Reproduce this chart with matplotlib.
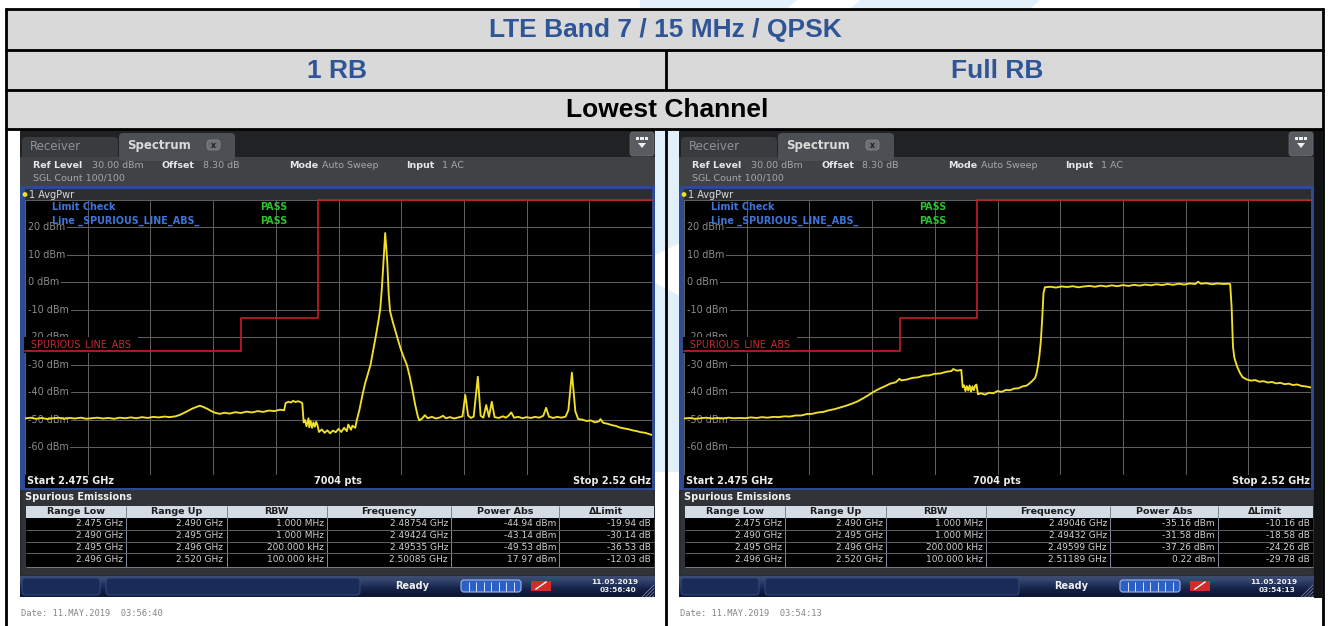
import matplotlib
matplotlib.use("Agg")
import matplotlib.pyplot as plt
import matplotlib.transforms as mtransforms
from matplotlib.patches import Rectangle, FancyBboxPatch, Polygon, Circle
import numpy as np

# ---------------- data ----------------
TITLE = "LTE Band 7 / 15 MHz / QPSK"
COLUMN_TITLES = ["1 RB", "Full RB"]
ROW_TITLE = "Lowest Channel"

F_START, F_STOP = 2.475, 2.52
REF_TOP, REF_BOTTOM = 30, -70
Y_TICKS = [20, 10, 0, -10, -20, -30, -40, -50, -60]
Y_TICK_LABELS = ["20 dBm", "10 dBm", "0 dBm", "-10 dBm", "-20 dBm",
                 "-30 dBm", "-40 dBm", "-50 dBm", "-60 dBm"]
SWEEP_POINTS = 7004

LIMIT_GHZ = [2.475, 2.4905, 2.4905, 2.496, 2.496, 2.52]
LIMIT_DBM = [-25, -25, -13, -13, 30, 30]

TRACE_1RB_GHZ = [
    2.4750, 2.4754, 2.4758, 2.4762, 2.4766, 2.4770, 2.4774, 2.4778, 2.4782, 2.4786,
    2.4790, 2.4794, 2.4798, 2.4802, 2.4806, 2.4810, 2.4814, 2.4818, 2.4822, 2.4826,
    2.4830, 2.4834, 2.4838, 2.4842, 2.4846, 2.4850, 2.4854, 2.4858,
    2.4861, 2.4864, 2.4867, 2.4870, 2.4873, 2.48754, 2.4878, 2.4881, 2.4884, 2.4887, 2.4890,
    2.4893, 2.4897, 2.4901, 2.4905, 2.4909, 2.4913, 2.4917, 2.4921, 2.4925, 2.4929, 2.4933, 2.4936,
    2.4937, 2.4939, 2.4941, 2.49424, 2.4944, 2.4946, 2.4948, 2.4949,
    2.4950, 2.4951, 2.4952, 2.49535, 2.4954, 2.4955, 2.4956, 2.4957, 2.4958, 2.4959, 2.4960,
    2.4961, 2.4963, 2.4965, 2.4967, 2.4969, 2.4971, 2.4973, 2.4975, 2.4977, 2.4979,
    2.4981, 2.4982, 2.4984, 2.4985, 2.4987, 2.4988,
    2.4990, 2.4992, 2.4994, 2.4996, 2.4998, 2.5000, 2.5002, 2.5004, 2.5005, 2.5006,
    2.5007, 2.50085, 2.5010, 2.5011, 2.5012, 2.5014, 2.5016, 2.5018, 2.5020, 2.5022,
    2.5024, 2.5026, 2.5028, 2.5030, 2.5032, 2.5033,
    2.5035, 2.5037, 2.5039, 2.5042, 2.5045, 2.5048, 2.5050, 2.5052, 2.5055, 2.5058,
    2.5061, 2.5064, 2.5066, 2.5068, 2.5070, 2.5072, 2.5075, 2.5077, 2.5079, 2.5081,
    2.5083, 2.5085, 2.5087, 2.5090, 2.5093, 2.5095, 2.5097, 2.5099, 2.5101, 2.5104,
    2.5107, 2.5110, 2.5113, 2.5116, 2.5119, 2.5122, 2.5124, 2.5126, 2.5129, 2.5132,
    2.5135, 2.5138, 2.5140, 2.51425, 2.5145, 2.5147, 2.5150, 2.5153, 2.5156, 2.5159,
    2.5162, 2.5163, 2.5165, 2.5168, 2.5171, 2.5174, 2.5177, 2.5180, 2.5183, 2.5186,
    2.5189, 2.5192, 2.5195, 2.5198, 2.5200]
TRACE_1RB_DBM = [
    -49.6, -49.3, -49.7, -49.4, -49.8, -49.5, -49.3, -49.7, -49.4, -49.6,
    -49.3, -49.7, -49.5, -49.3, -49.6, -49.4, -49.7, -49.3, -49.5, -49.2,
    -49.5, -49.1, -49.4, -49.0, -49.2, -48.9, -49.1, -48.8,
    -48.3, -47.6, -46.8, -46.0, -45.4, -44.94, -45.4, -46.1, -47.0, -47.6, -47.9,
    -47.5, -47.8, -47.3, -47.6, -47.1, -47.4, -46.9, -47.2, -46.7, -46.9, -46.4, -46.6,
    -44.0, -43.5, -43.8, -43.14, -43.6, -43.3, -43.7, -44.0,
    -51.0, -50.2, -52.4, -49.53, -52.8, -50.5, -53.0, -51.0, -52.6, -50.8, -52.2,
    -54.5, -53.6, -54.8, -53.9, -55.0, -54.0, -54.6, -53.4, -54.5, -53.0,
    -54.2, -51.8, -53.7, -52.2, -53.0, -50.5,
    -46.5, -41.5, -37.0, -33.5, -30.0, -24.5, -19.0, -13.0, -9.5, -3.0,
    5.0, 17.97, 7.5, -4.0, -10.5, -14.5, -18.0, -21.5, -24.8, -27.5,
    -30.0, -34.0, -39.0, -44.5, -49.0, -50.3,
    -49.6, -48.4, -49.5, -49.0, -49.6, -49.2, -48.6, -49.5, -49.1, -49.6,
    -49.2, -48.8, -41.0, -48.5, -49.4, -48.9, -34.4, -48.6, -49.3, -44.7,
    -49.0, -43.5, -49.1, -49.4, -48.8, -49.3, -48.6, -47.4, -49.3, -49.0,
    -49.5, -49.1, -49.4, -49.0, -49.3, -48.6, -45.7, -48.9, -49.4, -49.0,
    -49.3, -48.9, -46.5, -32.9, -47.0, -49.8, -50.0, -50.5, -50.3, -51.0,
    -50.6, -49.8, -51.2, -51.5, -52.0, -52.3, -52.9, -53.2, -53.5, -53.9,
    -54.2, -54.6, -54.8, -55.3, -55.6]

TRACE_FULL_GHZ = [
    2.4750, 2.4754, 2.4758, 2.4762, 2.4766, 2.4770, 2.4774, 2.4778, 2.4782, 2.4786,
    2.4790, 2.4794, 2.4798, 2.4802, 2.4806, 2.4810, 2.4814, 2.4818, 2.4822, 2.4826,
    2.4830, 2.4834, 2.4838, 2.4842, 2.4846, 2.4850, 2.4854, 2.4858, 2.4862, 2.4866,
    2.4870, 2.4874, 2.4878, 2.4882, 2.4886, 2.4890, 2.4894, 2.4898, 2.4902, 2.49046,
    2.4906, 2.4910, 2.4914, 2.4918, 2.4922, 2.4926, 2.4930, 2.4934, 2.4938, 2.4942,
    2.49432, 2.4946, 2.4949,
    2.4950, 2.4951, 2.4952, 2.4953, 2.4954, 2.4955, 2.4956, 2.4957, 2.4958, 2.4959, 2.49599,
    2.4961, 2.4963, 2.4966, 2.4969, 2.4972, 2.4975, 2.4978, 2.4981, 2.4984, 2.4987,
    2.4990, 2.4993, 2.4996, 2.4998, 2.5000, 2.5002, 2.5003, 2.5004, 2.5005, 2.5006,
    2.5007, 2.5008, 2.5009,
    2.5013, 2.5017, 2.5021, 2.5025, 2.5029, 2.5033, 2.5037, 2.5041, 2.5045, 2.5049,
    2.5053, 2.5057, 2.5061, 2.5065, 2.5069, 2.5073, 2.5077, 2.5081, 2.5085, 2.5089,
    2.5093, 2.5097, 2.5101, 2.5105, 2.5109, 2.5113, 2.5117, 2.51189, 2.5121, 2.5125,
    2.5129, 2.5133, 2.5137, 2.5141, 2.5142,
    2.5143, 2.5144, 2.5145, 2.5147, 2.5149, 2.5151, 2.5154, 2.5157, 2.5160, 2.5163,
    2.5166, 2.5169, 2.5172, 2.5175, 2.5178, 2.5181, 2.5184, 2.5187, 2.5190, 2.5193,
    2.5196, 2.5200]
TRACE_FULL_DBM = [
    -49.6, -49.4, -49.7, -49.5, -49.3, -49.6, -49.4, -49.6, -49.3, -49.5,
    -49.4, -49.5, -49.2, -49.4, -49.1, -49.3, -49.0, -49.1, -48.8, -48.9,
    -48.5, -48.5, -48.0, -47.9, -47.4, -47.2, -46.6, -46.2, -45.6, -45.0,
    -44.3, -43.5, -42.4, -41.2, -39.9, -38.8, -37.9, -36.9, -36.4, -35.16,
    -35.7, -35.4, -34.8, -34.6, -34.0, -33.9, -33.3, -33.2, -32.6, -32.3,
    -31.58, -32.2, -31.9,
    -38.2, -37.5, -39.6, -37.8, -39.4, -37.6, -39.8, -37.9, -39.3, -37.6, -37.26,
    -40.8, -40.4, -40.9, -40.2, -40.4, -39.6, -39.9, -39.2, -39.3, -38.7,
    -38.6, -37.9, -37.6, -36.8, -35.9, -34.8, -33.2, -30.5, -27.1, -22.0,
    -14.0, -4.0, -1.8,
    -1.6, -1.9, -1.5, -1.7, -1.4, -1.8, -1.5, -1.3, -1.6, -1.2,
    -1.5, -1.1, -1.4, -1.0, -1.3, -0.9, -1.2, -0.8, -1.1, -0.7,
    -1.0, -0.6, -0.9, -0.5, -0.8, -0.4, -0.6, 0.22, -0.5, -0.3,
    -0.7, -0.4, -0.6, -0.5, -0.7,
    -8.8, -23.4, -27.5, -30.7, -33.0, -34.6, -35.4, -35.8, -35.6, -36.2,
    -36.0, -36.5, -36.3, -36.8, -36.6, -37.1, -36.9, -37.4, -37.2, -37.7,
    -37.9, -38.3]

SE_HEADERS = ["Range Low", "Range Up", "RBW", "Frequency", "Power Abs", "\u0394Limit"]
SE_RANGE_LOW = ["2.475 GHz", "2.490 GHz", "2.495 GHz", "2.496 GHz"]
SE_RANGE_UP = ["2.490 GHz", "2.495 GHz", "2.496 GHz", "2.520 GHz"]
SE_RBW = ["1.000 MHz", "1.000 MHz", "200.000 kHz", "100.000 kHz"]
SE_FREQ_1RB = ["2.48754 GHz", "2.49424 GHz", "2.49535 GHz", "2.50085 GHz"]
SE_POWER_1RB = [-44.94, -43.14, -49.53, 17.97]
SE_DELTA_1RB = [-19.94, -30.14, -36.53, -12.03]
SE_FREQ_FULL = ["2.49046 GHz", "2.49432 GHz", "2.49599 GHz", "2.51189 GHz"]
SE_POWER_FULL = [-35.16, -31.58, -37.26, 0.22]
SE_DELTA_FULL = [-10.16, -18.58, -24.26, -29.78]

INFO_LABELS = ["Ref Level", "Offset", "Mode", "Input"]
INFO_VALUES = ["30.00 dBm", "8.30 dB", "Auto Sweep", "1 AC"]
SGL_COUNT = "SGL Count 100/100"
DATE_SHORT = "11.05.2019"
DATE_LONG = "11.MAY.2019"
TIMES = ["03:56:40", "03:54:13"]

# ---------------- figure ----------------
W, H = 1330, 626
fig = plt.figure(figsize=(W / 100, H / 100), dpi=100)
fig.patch.set_facecolor("white")
bg = fig.add_axes([0, 0, 1, 1])
bg.set_axis_off()

PX = 0.72  # points per pixel


def rect(x, y, w, h, fc, ec="none", lw=0, z=1, r=0):
    if r:
        p = FancyBboxPatch((x, y), w, h, boxstyle=f"round,pad=0,rounding_size={r}",
                           fc=fc, ec=ec, lw=lw, zorder=z)
    else:
        p = Rectangle((x, y), w, h, fc=fc, ec=ec, lw=lw, zorder=z)
    bg.add_patch(p)
    return p


def txt(x, y, s, size=6.5, color="#d0d0d0", weight="normal", ha="left",
        va="center", family="DejaVu Sans", z=6, **kw):
    return bg.text(x, y, s, fontsize=size, color=color, fontweight=weight, ha=ha,
                   va=va, family=family, zorder=z, **kw)


def hline(x0, x1, y, color, lw, z=3):
    bg.plot([x0, x1], [y, y], color=color, lw=lw * PX, zorder=z, solid_capstyle="butt")


def vline(x, y0, y1, color, lw, z=3):
    bg.plot([x, x], [y0, y1], color=color, lw=lw * PX, zorder=z, solid_capstyle="butt")


# watermark swooshes (light blue) visible in the white gaps
WM = "#e1f0fb"
bg.add_patch(Polygon([(640, 0), (797, 0), (787, 9), (640, 9)], fc=WM, ec="none", zorder=0.5))
bg.add_patch(Polygon([(860, 0), (1040, 0), (1030, 9), (850, 9)], fc=WM, ec="none", zorder=0.5))
bg.add_patch(Polygon([(655, 129), (680, 129), (680, 243), (655, 255)], fc=WM, ec="none", zorder=0.5))
bg.add_patch(Polygon([(655, 283), (680, 296), (680, 472), (655, 472)], fc=WM, ec="none", zorder=0.5))

# ---------------- table frame ----------------
GRAY = "#d9d9d9"
BLUE_T = "#2f5597"
rect(6, 9, 1317, 120, GRAY, z=0.8)
BL = 2.8
hline(5, 1324, 9, "black", BL)
hline(5, 1324, 50, "black", BL)
hline(5, 1324, 90, "black", BL)
hline(5, 1324, 129, "black", BL)
vline(6, 8, 626, "black", BL)
vline(1323, 8, 626, "black", BL)
vline(666, 50, 90, "black", BL)
vline(666, 129, 626, "black", BL)

TFS = 19
txt(665, 30, TITLE, size=TFS, color=BLUE_T, weight="bold", ha="center",
    family="Liberation Sans")
txt(337, 70.5, COLUMN_TITLES[0], size=TFS, color=BLUE_T, weight="bold", ha="center",
    family="Liberation Sans")
txt(997, 70.5, COLUMN_TITLES[1], size=TFS, color=BLUE_T, weight="bold", ha="center",
    family="Liberation Sans")
txt(667, 110, ROW_TITLE, size=TFS, color="black", weight="bold", ha="center",
    family="Liberation Sans")

# right-edge dark margin of the second screenshot
rect(1314, 130, 8, 468, "#111214", z=1)

# ---------------- screenshots ----------------
FRAME_BLUE = "#2d4b8e"
COL_EDGES = [26, 126, 226.5, 327, 451, 559, 654]


def screenshot(dx, gh, gd, freq_col, power_col, delta_col, tstamp):
    # global dark background
    rect(20 + dx, 130, 635, 467, "#2b2e31", z=1)
    # tab bar
    rect(20 + dx, 130, 635, 27, "#202224", z=1.1)
    rect(22 + dx, 137, 96, 24, "#393c3f", z=1.2, r=4)
    txt(30 + dx, 147, "Receiver", size=8.5, color="#8f9397")
    rect(119 + dx, 133, 116, 28, "#4c5054", z=1.3, r=4)
    txt(127 + dx, 145, "Spectrum", size=8.5, color="#dadada", weight="bold")
    rect(207 + dx, 140, 13, 10, "#6b6f73", ec="#8a8e92", lw=0.5, z=1.4, r=3)
    txt(213.5 + dx, 145, "x", size=5.5, color="#1e1e1e", weight="bold", ha="center")
    rect(630 + dx, 132, 24, 24, "#585c60", ec="#70757a", lw=0.5, z=1.4, r=3)
    for k in range(3):
        rect(636 + dx + k * 4.4, 137, 3.4, 3, "#f0f0f0", z=1.5)
    bg.add_patch(Polygon([(638 + dx, 143), (646 + dx, 143), (642 + dx, 148)],
                         fc="#f0f0f0", ec="none", zorder=1.5))
    # info area
    rect(20 + dx, 157, 635, 29, "#3f4346", z=1.2)
    lx = [33, 162, 289, 406]
    vx = [92, 203, 322, 442]
    for lab, val, a, b in zip(INFO_LABELS, INFO_VALUES, lx, vx):
        txt(a + dx, 165, lab, size=6.8, color="#e6e6e6", weight="bold")
        txt(b + dx, 165, val, size=6.8, color="#a4a8ab")
    txt(33 + dx, 178, SGL_COUNT, size=6.8, color="#a4a8ab")
    # blue frame
    rect(20 + dx, 186, 635, 3, FRAME_BLUE, z=1.3)
    rect(20 + dx, 189, 635, 11, "#2c2f32", z=1.3)
    rect(20 + dx, 186, 4.5, 303, FRAME_BLUE, z=1.4)
    rect(652 + dx, 186, 3, 303, FRAME_BLUE, z=1.4)
    rect(20 + dx, 487.5, 635, 2, FRAME_BLUE, z=1.4)
    bg.add_patch(Circle((25 + dx, 194.5), 2.4, fc="#f0e020", ec="none", zorder=2))
    txt(29 + dx, 194.5, "1 AvgPwr", size=7, color="#d8d8d8")
    # start / stop bar
    rect(24.5 + dx, 474.5, 627.5, 13, "black", z=1.5)
    txt(27 + dx, 481.5, f"Start {F_START:g} GHz", size=7, color="#ececec", weight="bold")
    txt(338 + dx, 481.5, f"{SWEEP_POINTS} pts", size=7, color="#ececec", weight="bold",
        ha="center")
    txt(651 + dx, 481.5, f"Stop {F_STOP:g} GHz", size=7, color="#ececec", weight="bold",
        ha="right")
    # spurious emissions panel
    rect(22 + dx, 490, 632, 85, "#303337", z=1.5, r=4)
    txt(25 + dx, 497, "Spurious Emissions", size=7, color="#f0f0f0", weight="bold")
    rect(26 + dx, 506, 628, 12, "#d3dbe5", z=1.6)
    rect(26 + dx, 518, 628, 49, "black", z=1.6)
    for e in COL_EDGES[1:-1]:
        vline(e + dx, 506, 567, "#7c8590", 1.0, z=1.7)
    for yy in [530, 541.7, 553.4]:
        hline(26 + dx, 654 + dx, yy, "#5e5e5e", 1.0, z=1.7)
    hline(26 + dx, 654 + dx, 566.5, "#7a7a7a", 1.0, z=1.7)
    for j, head in enumerate(SE_HEADERS):
        cx = (COL_EDGES[j] + COL_EDGES[j + 1]) / 2 + dx
        txt(cx, 512, head, size=6.8, color="#1c1c1c", weight="bold", ha="center")
    cols = [SE_RANGE_LOW, SE_RANGE_UP, SE_RBW, freq_col,
            [f"{p:.2f} dBm" for p in power_col],
            [f"{d:.2f} dB" for d in delta_col]]
    row_y = [524, 536, 547.5, 559.5]
    for j, col in enumerate(cols):
        for i, s in enumerate(col):
            txt(COL_EDGES[j + 1] - 3 + dx, row_y[i], s, size=6.5, color="#cfcfcf", ha="right")
    # status bar with vertical gradient
    grad = np.array([[0.24, 0.30, 0.44], [0.14, 0.21, 0.38], [0.08, 0.13, 0.27],
                     [0.05, 0.09, 0.21]])[:, None, :]
    bg.imshow(grad, extent=(20 + dx, 655 + dx, 597, 576), aspect="auto",
              interpolation="bicubic", zorder=1.6)
    rect(22 + dx, 578, 78, 17, "#1b2b57", ec="#34508c", lw=0.6, z=1.8, r=3)
    rect(106 + dx, 578, 254, 17, "#1b2b57", ec="#34508c", lw=0.6, z=1.8, r=3)
    txt(412 + dx, 586, "Ready", size=7, color="#f0f0f0", weight="bold", ha="center")
    rect(461 + dx, 580, 60, 12, "#2b5fc4", ec="#9db8ee", lw=0.8, z=1.8, r=3)
    for k in range(1, 8):
        vline(461 + dx + k * 7.5, 581.5, 590.5, "#e8eefc", 0.9, z=1.9)
    rect(531 + dx, 580.5, 20, 10.5, "#d42a2a", z=1.8)
    bg.plot([536 + dx, 546 + dx], [589, 582], color="white", lw=1.0, zorder=1.9)
    txt(615 + dx, 581.5, DATE_SHORT, size=5.3, color="#f0f0f0", weight="bold", ha="center")
    txt(618 + dx, 590.5, tstamp, size=5.3, color="#f0f0f0", weight="bold", ha="center")
    for k in range(4):
        bg.plot([642 + dx + k * 3.5, 654 + dx], [597, 585 + k * 3.5], color="#8a93a6",
                lw=0.5, zorder=1.9)
    # footer
    txt(21 + dx, 614, f"Date: {DATE_LONG}  {tstamp}", size=6.3, color="#858585",
        family="DejaVu Sans Mono")

    # ---- diagram ----
    x0, y0, w, h = 25 + dx, 200, 627, 274.5
    ax = fig.add_axes([x0 / W, 1 - (y0 + h) / H, w / W, h / H])
    ax.set_facecolor("black")
    ax.set_xlim(F_START, F_STOP)
    ax.set_ylim(REF_BOTTOM, REF_TOP)
    ax.set_xticks(np.linspace(F_START, F_STOP, 11))
    ax.set_yticks(np.arange(REF_BOTTOM, REF_TOP + 1, 10))
    ax.grid(True, color="#5e5e5e", lw=0.75)
    ax.tick_params(length=0, labelbottom=False, labelleft=False)
    for sp in ax.spines.values():
        sp.set_visible(False)

    def ap(px, py):
        return (px - 25) / w, 1 - (py - y0) / h

    tr = mtransforms.blended_transform_factory(ax.transAxes, ax.transData)
    for v, lab in zip(Y_TICKS, Y_TICK_LABELS):
        ax.text(3 / w, v, lab, transform=tr, fontsize=6.9, color="#8c8c8c",
                va="center", ha="left", zorder=3,
                bbox=dict(fc="black", ec="none", pad=1.2))
    ax.text(*ap(26, 345), "_SPURIOUS_LINE_ABS_", transform=ax.transAxes, fontsize=6.9,
            color="#c8282e", va="center", ha="left", zorder=3.5,
            bbox=dict(fc="black", ec="none", pad=1.6))
    ax.plot(LIMIT_GHZ, LIMIT_DBM, color="#c42028", lw=1.2, zorder=4.5, clip_on=False)
    ax.plot(gh, gd, color="#f0e028", lw=1.35, zorder=4)
    ax.text(*ap(52, 207), "Limit Check", transform=ax.transAxes, fontsize=6.9,
            color="#3e74d8", weight="bold", va="center", zorder=6)
    ax.text(*ap(52, 221), "Line _SPURIOUS_LINE_ABS_", transform=ax.transAxes, fontsize=6.9,
            color="#3e74d8", weight="bold", va="center", zorder=6)
    ax.text(*ap(260, 207), "PASS", transform=ax.transAxes, fontsize=6.9,
            color="#2ec22e", weight="bold", va="center", zorder=6)
    ax.text(*ap(260, 221), "PASS", transform=ax.transAxes, fontsize=6.9,
            color="#2ec22e", weight="bold", va="center", zorder=6)
    return ax


screenshot(0, TRACE_1RB_GHZ, TRACE_1RB_DBM, SE_FREQ_1RB, SE_POWER_1RB, SE_DELTA_1RB, TIMES[0])
screenshot(659, TRACE_FULL_GHZ, TRACE_FULL_DBM, SE_FREQ_FULL, SE_POWER_FULL, SE_DELTA_FULL,
           TIMES[1])

bg.set_xlim(0, W)
bg.set_ylim(H, 0)
fig.savefig("out.png", dpi=100, facecolor="white")
